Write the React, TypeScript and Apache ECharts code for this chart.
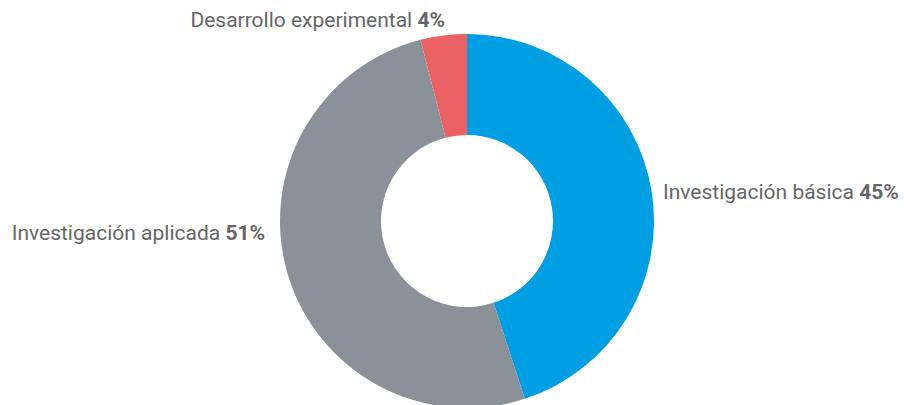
import React, { useEffect, useRef } from "react";
import * as echarts from "echarts";

const categories = ["Investigación básica", "Investigación aplicada", "Desarrollo experimental"];
const values = [45, 51, 4];
const colors = ["#009fe3", "#8a9199", "#ec6264"];

export default function App() {
  const ref = useRef<HTMLDivElement>(null);
  useEffect(() => {
    const chart = echarts.init(ref.current!, null, { renderer: "svg" });
    const labelPos = [
      { x: 663, y: 192, align: "left" },
      { x: 265, y: 233, align: "right" },
      { x: 445, y: 20, align: "right" },
    ];
    chart.setOption({
      animation: false,
      series: [
        {
          type: "pie",
          center: [467, 221],
          radius: [86, 187],
          startAngle: 90,
          clockwise: true,
          data: categories.map((c, i) => ({ name: c, value: values[i], itemStyle: { color: colors[i] } })),
          itemStyle: { borderWidth: 0 },
          emphasis: { disabled: true },
          labelLine: { show: false },
          label: {
            show: true,
            position: "outside",
            overflow: "none",
            width: 400,
            formatter: (p: any) => `{n|${p.name} }{v|${p.value}%}`,
            rich: {
              n: { fontFamily: "Roboto", fontSize: 21, color: "#666666" },
              v: { fontFamily: "Roboto", fontSize: 21, fontWeight: "bold", color: "#666666" },
            },
          },
          labelLayout: (params: any) => {
            const l = labelPos[params.dataIndex];
            return { x: l.x, y: l.y, align: l.align, verticalAlign: "middle" };
          },
        },
      ],
    });
    return () => chart.dispose();
  }, []);
  return <div ref={ref} style={{ width: 904, height: 405, position: "absolute", left: 0, top: 0 }} />;
}
